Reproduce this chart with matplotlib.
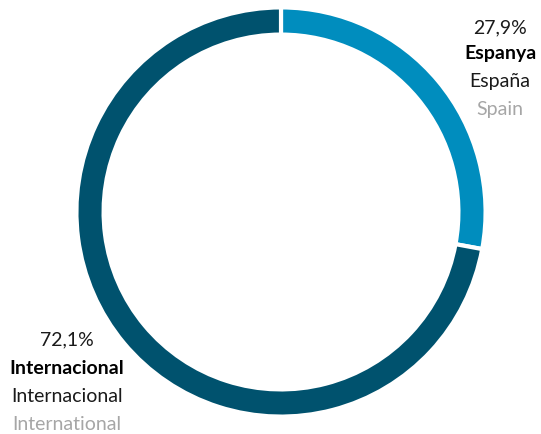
import matplotlib
matplotlib.use("Agg")
import matplotlib.pyplot as plt

categories = ["Espanya", "Internacional"]
values = [27.9, 72.1]
labels_es = ["España", "Internacional"]
labels_en = ["Spain", "International"]
pct_labels = ["27,9%", "72,1%"]
colors = ["#008DBE", "#00526E"]

fig = plt.figure(figsize=(5.41, 4.34), dpi=100)
ax = fig.add_axes([0, 0, 1, 1])

lw_pt = 3.0
half_px = lw_pt * 100 / 72 / 2
ax.pie(values, colors=colors, startangle=90, counterclock=False,
       center=(281, 222), radius=202.5 + half_px, frame=True,
       wedgeprops=dict(width=23 + 2 * half_px, edgecolor="white", linewidth=lw_pt))
ax.set_xlim(0, 541)
ax.set_ylim(0, 434)
ax.set_aspect("equal")
ax.axis("off")

font = "Lato"
fs = 14
positions = [(500, [28, 53, 81, 110]), (67, [340, 368, 397, 425])]
for i, (x, ys) in enumerate(positions):
    ax.text(x, 434 - ys[0], pct_labels[i], ha="center", va="center", fontsize=fs, family=font, color="#1a1a1a")
    ax.text(x, 434 - ys[1], categories[i], ha="center", va="center", fontsize=fs, family=font, fontweight="bold", color="#000000")
    ax.text(x, 434 - ys[2], labels_es[i], ha="center", va="center", fontsize=fs, family=font, color="#1a1a1a")
    ax.text(x, 434 - ys[3], labels_en[i], ha="center", va="center", fontsize=fs, family=font, color="#A6A6A6")

fig.savefig("out.png", dpi=100)
